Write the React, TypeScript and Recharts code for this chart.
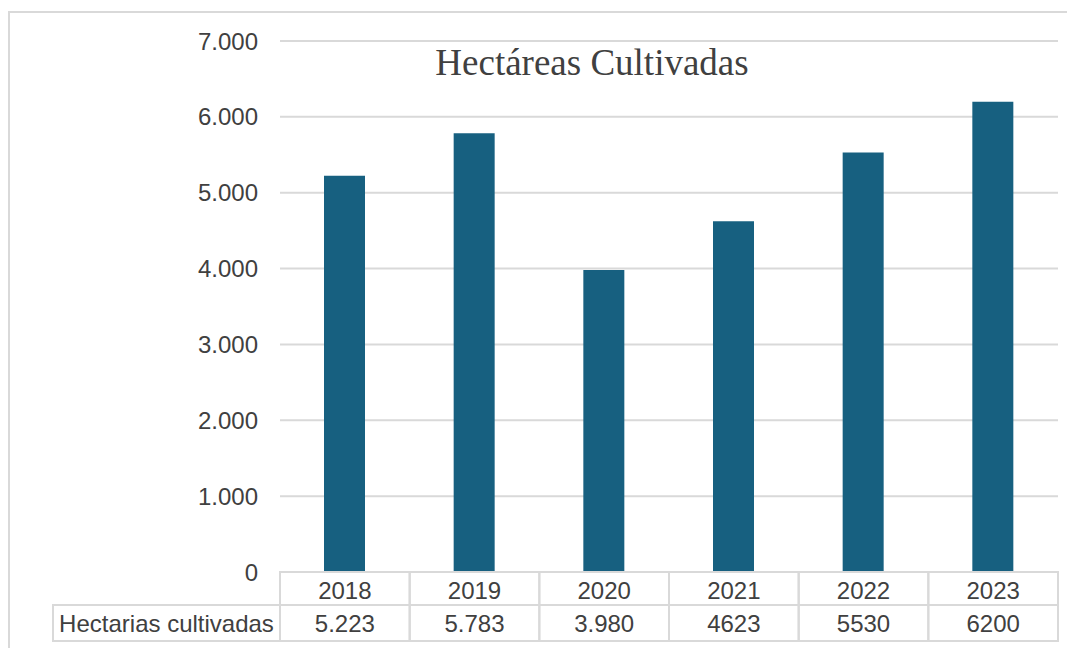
import { BarChart, Bar, XAxis, YAxis, CartesianGrid } from 'recharts'

const years = ['2018', '2019', '2020', '2021', '2022', '2023']
const hectareas = [5223, 5783, 3980, 4623, 5530, 6200]
const tableLabels = ['5.223', '5.783', '3.980', '4623', '5530', '6200']
const yTicks = [0, 1000, 2000, 3000, 4000, 5000, 6000, 7000]
const seriesName = 'Hectarias cultivadas'

const W = 1067
const H = 640
const PLOT_LEFT = 272
const PLOT_RIGHT = 1050
const PLOT_TOP = 33
const PLOT_BOTTOM = 564
const CELL_W = (PLOT_RIGHT - PLOT_LEFT) / years.length
const ROW1 = 33
const ROW2 = 36
const BORDER = '#d9d9d9'
const TEXT = '#404040'
const FONT = "'Liberation Sans', Arial, sans-serif"

const data = years.map((y, i) => ({ year: y, value: hectareas[i], label: tableLabels[i] }))

const fmt = (v: number) => (v === 0 ? '0' : v.toLocaleString('de-DE'))

function TableTick(props: any) {
  const { x, index } = props
  const d = data[index]
  const left = x - CELL_W / 2
  return (
    <g>
      {index === 0 && (
        <g>
          <rect x={45} y={PLOT_BOTTOM + ROW1} width={PLOT_LEFT - 45} height={ROW2} fill="none" stroke={BORDER} strokeWidth={2} />
          <text x={(45 + PLOT_LEFT) / 2} y={PLOT_BOTTOM + ROW1 + ROW2 / 2} textAnchor="middle" dominantBaseline="central" fontSize={24} fill={TEXT} fontFamily={FONT}>
            {seriesName}
          </text>
        </g>
      )}
      <rect x={left} y={PLOT_BOTTOM} width={CELL_W} height={ROW1} fill="none" stroke={BORDER} strokeWidth={2} />
      <rect x={left} y={PLOT_BOTTOM + ROW1} width={CELL_W} height={ROW2} fill="none" stroke={BORDER} strokeWidth={2} />
      <text x={x} y={PLOT_BOTTOM + ROW1 / 2 + 2} textAnchor="middle" dominantBaseline="central" fontSize={24} fill={TEXT} fontFamily={FONT}>
        {d.year}
      </text>
      <text x={x} y={PLOT_BOTTOM + ROW1 + ROW2 / 2} textAnchor="middle" dominantBaseline="central" fontSize={24} fill={TEXT} fontFamily={FONT}>
        {d.label}
      </text>
    </g>
  )
}

export default function App() {
  return (
    <div style={{ position: 'relative', width: W, height: H, overflow: 'hidden', background: '#fff' }}>
      <div
        style={{
          position: 'absolute',
          left: 0,
          top: 3,
          width: 1100,
          height: 700,
          border: `2px solid ${BORDER}`,
          boxSizing: 'border-box',
        }}
      />
      <BarChart
        width={W}
        height={H}
        data={data}
        margin={{ top: PLOT_TOP, right: W - PLOT_RIGHT, left: 0, bottom: 0 }}
        style={{ position: 'absolute', left: 0, top: 0 }}
      >
        <CartesianGrid horizontal vertical={false} stroke={BORDER} strokeWidth={2} />
        <XAxis
          dataKey="year"
          height={H - PLOT_BOTTOM}
          axisLine={false}
          tickLine={false}
          interval={0}
          tick={(p: any) => <TableTick {...p} />}
        />
        <YAxis
          width={PLOT_LEFT}
          domain={[0, 7000]}
          ticks={yTicks}
          axisLine={false}
          tickLine={false}
          tickSize={0}
          tickMargin={22}
          tickFormatter={fmt}
          tick={{ fontSize: 24, fill: TEXT, fontFamily: FONT }}
        />
        <Bar dataKey="value" fill="#176080" barSize={41} isAnimationActive={false} />
      </BarChart>
      <div
        style={{
          position: 'absolute',
          left: 384,
          top: 36,
          width: 400,
          textAlign: 'center',
          fontFamily: "'Liberation Serif', 'Times New Roman', serif",
          fontSize: 37,
          lineHeight: '37px',
          color: TEXT,
        }}
      >
        Hectáreas Cultivadas
      </div>
    </div>
  )
}
